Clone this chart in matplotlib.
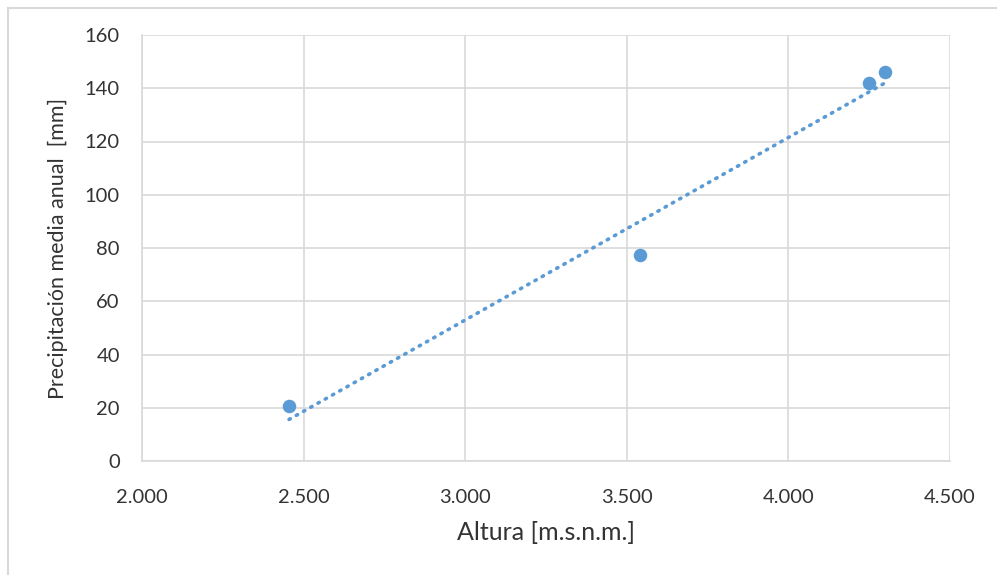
import numpy as np
import matplotlib.pyplot as plt
from matplotlib.lines import Line2D
from matplotlib.ticker import FuncFormatter

# Data
altura = [2455, 3541, 4249, 4299]
precipitacion = [20.7, 77.4, 142.0, 146.1]

x_ticks = [2000, 2500, 3000, 3500, 4000, 4500]
y_ticks = [0, 20, 40, 60, 80, 100, 120, 140, 160]

blue = '#5B9BD5'
grid_col = '#D9D9D9'
text_col = '#333333'

plt.rcParams['font.family'] = ['Lato', 'DejaVu Sans']

fig = plt.figure(figsize=(9.97, 5.75), dpi=100)
ax = fig.add_axes([142 / 997, 1 - 461 / 575, 808 / 997, 426 / 575])

# linear trendline (dotted, like Excel)
coef = np.polyfit(altura, precipitacion, 1)
x_fit = np.linspace(min(altura), max(altura), 50)
ax.plot(x_fit, np.polyval(coef, x_fit), color=blue, lw=2.6,
        linestyle=(0, (0.4, 1.9)), dash_capstyle='round', zorder=3)

ax.scatter(altura, precipitacion, s=95, color=blue, zorder=4, linewidths=0)

ax.set_xlim(2000, 4500)
ax.set_ylim(0, 160)
ax.set_xticks(x_ticks)
ax.set_yticks(y_ticks)
ax.xaxis.set_major_formatter(FuncFormatter(lambda v, p: f'{int(v):,}'.replace(',', '.')))

ax.grid(True, color=grid_col, lw=1.2)
ax.set_axisbelow(True)
for side in ['top', 'right']:
    ax.spines[side].set_visible(False)
for side in ['left', 'bottom']:
    ax.spines[side].set_color(grid_col)
    ax.spines[side].set_linewidth(1.2)
ax.tick_params(length=0, labelsize=14.5, colors=text_col)
ax.tick_params(axis='x', pad=20)
ax.tick_params(axis='y', pad=16)

ax.set_xlabel('Altura [m.s.n.m.]', fontsize=18, color=text_col, labelpad=11)
ax.set_ylabel('Precipitación media anual  [mm]', fontsize=15.5, color=text_col, labelpad=12)

# chart border (only left and top visible in the crop)
fig.add_artist(Line2D([8 / 997, 8 / 997], [0, 1 - 8 / 575], color=grid_col, lw=1.5))
fig.add_artist(Line2D([8 / 997, 1], [1 - 8 / 575, 1 - 8 / 575], color=grid_col, lw=1.5))

fig.savefig('out.png', dpi=100)
